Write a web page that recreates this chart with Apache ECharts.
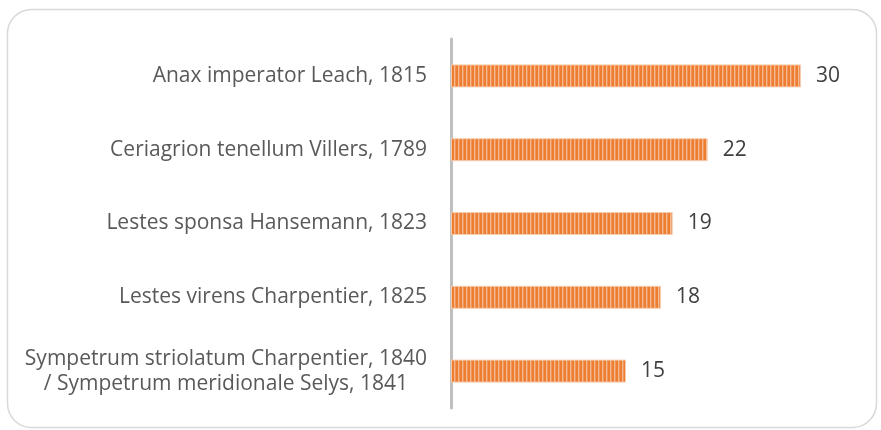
<!DOCTYPE html>
<html>
<head>
<meta charset="utf-8">
<script src="https://cdn.jsdelivr.net/npm/echarts@6/dist/echarts.min.js"></script>
<style>
  html, body { margin: 0; padding: 0; background: #fff; }
  #chart { width: 881px; height: 430px; }
</style>
</head>
<body>
<div id="chart"></div>
<script>
// species, top to bottom as shown
var categories = [
  "Anax imperator Leach, 1815",
  "Ceriagrion tenellum Villers, 1789",
  "Lestes sponsa Hansemann, 1823",
  "Lestes virens Charpentier, 1825",
  "Sympetrum striolatum Charpentier, 1840\n/ Sympetrum meridionale Selys, 1841"
];
var counts = [30, 22, 19, 18, 15];

// striped fill for the bars
function makeStripe() {
  var c = document.createElement("canvas");
  c.width = 4;
  c.height = 4;
  var ctx = c.getContext("2d");
  ctx.fillStyle = "#ed7d31";
  ctx.fillRect(0, 0, 4, 4);
  ctx.fillStyle = "#f6b98e";
  ctx.fillRect(2, 0, 1, 4);
  ctx.fillStyle = "#f0955a";
  ctx.fillRect(3, 0, 1, 4);
  return c;
}

var chart = echarts.init(document.getElementById("chart"));
var option = {
  backgroundColor: "#fff",
  animation: false,
  graphic: [
    {
      type: "rect",
      shape: { x: 7.5, y: 9.5, width: 869, height: 418, r: 24 },
      style: { fill: "none", stroke: "#d9d9d9", lineWidth: 1.5 },
      silent: true
    }
  ],
  grid: { left: 451, right: 80, top: 39, bottom: 22 },
  xAxis: {
    type: "value",
    min: 0,
    max: 30,
    show: false
  },
  yAxis: {
    type: "category",
    inverse: true,
    data: categories,
    axisLine: { show: true, lineStyle: { color: "#bfbfbf", width: 3 } },
    axisTick: { show: false },
    axisLabel: {
      margin: 24,
      color: "#595959",
      fontFamily: "Open Sans",
      fontSize: 21,
      formatter: function (v) {
        return v.split("\n").map(function (s) { return "{c|" + s + "}"; }).join("\n");
      },
      rich: {
        c: {
          color: "#595959",
          fontFamily: "Open Sans",
          fontSize: 21,
          lineHeight: 25,
          align: "center"
        }
      }
    }
  },
  series: [
    {
      type: "bar",
      data: counts,
      barWidth: 23,
      itemStyle: {
        color: { image: makeStripe(), repetition: "repeat" },
        borderColor: "#f8cbad",
        borderWidth: 1
      },
      label: {
        show: true,
        position: "right",
        distance: 15,
        color: "#404040",
        fontFamily: "Open Sans",
        fontSize: 21
      }
    }
  ]
};
chart.setOption(option);
</script>
</body>
</html>
